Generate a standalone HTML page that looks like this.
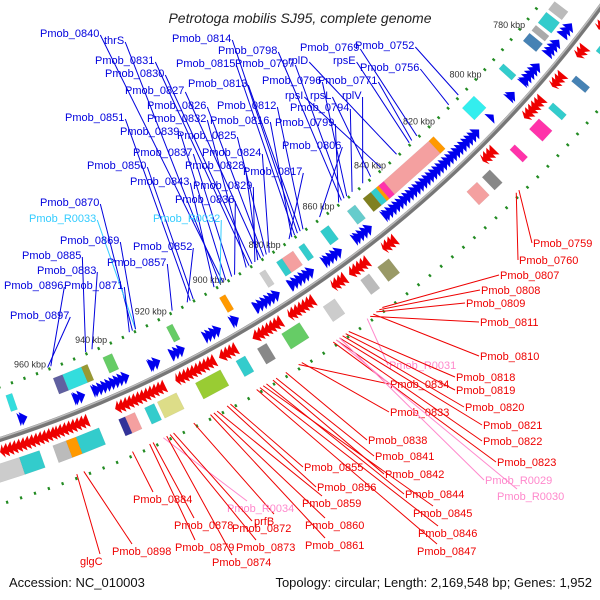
<!DOCTYPE html>
<html><head><meta charset="utf-8"><style>
html,body{margin:0;padding:0;background:#fff}
svg{display:block}
text{font-family:"Liberation Sans",sans-serif}
</style></head><body>
<svg id="map" width="600" height="600" viewBox="0 0 600 600" xmlns="http://www.w3.org/2000/svg">
<text x="300" y="23" text-anchor="middle" font-size="14" font-style="italic" fill="#222">Petrotoga mobilis SJ95, complete genome</text>
<text x="9" y="587" font-size="13" fill="#111">Accession: NC_010003</text>
<text x="592" y="587" text-anchor="end" font-size="13" fill="#111">Topology: circular; Length: 2,169,548 bp; Genes: 1,952</text>
<g id="g"></g>
</svg>
<script>
// ---- data ----
const tickKbp = [780,800,820,840,860,880,900,920,940,960];
const blueRuns = [[768,772],[774,779],[783,790],[794,796],[803,804],[809,846],[851,857],[862,868],[872,880],[884,892],[898,900],[904,909],[916,920],[924,927],[934,945],[948,951],[966,968]];
const redRuns = [[760,764],[771,774],[781,785],[790,797],[810,814],[848,852],[858,864],[866,870],[877,885],[888,897],[903,908],[910,922],[926,941],[950,960],[960,976]];
const innerBlocks = [[766,769,'#bbbbbb'],[770,774,'#33cccc'],[775,777,'#aaaaaa'],[778,781,'#4682b4'],[790,792,'#33cccc'],[803,808,'#33eeee'],[820,822,'#ff9900'],[822,840,'#f4a0a0'],[840,842,'#ff33aa'],[842,843,'#ff9900'],[843,845,'#33cccc'],[845,848,'#808020'],[851,854,'#66cccc'],[861,864,'#33cccc'],[870,872,'#33cccc'],[874,878,'#f4a0a0'],[878,880,'#33cccc'],[884,886,'#cccccc'],[898,900,'#ff9900'],[916,918,'#66cc66'],[936,939,'#66cc66'],[944,946,'#999933'],[946,952,'#33dddd'],[952,955,'#6060a0'],[968,970,'#33dddd']];
const outerBlocks = [[760,762,'#6a6acd'],[765,770,'#33cccc'],[779,781,'#4682b4'],[789,791,'#33cccc'],[795,799,'#ff33aa'],[805,807,'#ff33aa'],[815,818,'#888888'],[820,824,'#f4a0a0'],[853,857,'#999966'],[860,863,'#bbbbbb'],[872,876,'#cccccc'],[884,890,'#66cc66'],[895,898,'#888888'],[902,905,'#33cccc'],[910,918,'#99cc33'],[924,930,'#dddd88'],[931,934,'#33cccc'],[937,940,'#f4a0a0'],[940,942,'#333399'],[948,955,'#33cccc'],[955,958,'#ff9900'],[958,962,'#bbbbbb'],[966,972,'#33cccc'],[972,980,'#cccccc']];
const blueNames = ['Pmob_0840','thrS','Pmob_0814','Pmob_0831','Pmob_0798','Pmob_0769','rpsE','Pmob_0752','Pmob_0815','Pmob_0797','rplD','Pmob_0756','Pmob_0830','Pmob_0827','Pmob_0813','Pmob_0796','Pmob_0771','Pmob_0826','Pmob_0812','rpsI','rpsL','rplV','Pmob_0851','Pmob_0832','Pmob_0816','Pmob_0794','Pmob_0839','Pmob_0825','Pmob_0799','Pmob_0837','Pmob_0824','Pmob_0806','Pmob_0850','Pmob_0828','Pmob_0817','Pmob_0843','Pmob_0829','Pmob_0836','Pmob_0870','Pmob_R0033','Pmob_R0032','Pmob_0869','Pmob_0852','Pmob_0885','Pmob_0857','Pmob_0883','Pmob_0896','Pmob_0871','Pmob_0897'];
const blueGene = [840,841,814,831,798,769,772,752,815,797,777,756,830,827,813,796,771,826,812,783,787,790,851,832,816,794,839,825,799,837,824,806,850,828,817,843,829,836,870,869,841,869,852,885,857,883,896,871,897];
const blueX = [40,104,172,95,218,300,333,355,176,235,288,360,105,125,188,262,318,147,217,285,310,342,65,147,210,290,120,177,275,133,202,282,87,185,243,130,193,175,40,29,153,60,133,22,107,37,4,64,10];
const blueY = [33,40,38,60,50,47,60,45,63,63,60,67,73,90,83,80,80,105,105,95,95,95,117,118,120,107,131,135,122,152,152,145,165,165,171,181,185,199,202,218,218,240,246,255,262,270,285,285,315];
const redNames = ['Pmob_0759','Pmob_0760','Pmob_0807','Pmob_0808','Pmob_0809','Pmob_0811','Pmob_0810','Pmob_R0031','Pmob_0834','Pmob_0818','Pmob_0819','Pmob_0820','Pmob_0833','Pmob_0821','Pmob_0822','Pmob_0838','Pmob_0823','Pmob_0841','Pmob_0842','Pmob_R0029','Pmob_0855','Pmob_0856','Pmob_0844','Pmob_R0030','Pmob_0859','Pmob_0845','Pmob_0884','prfB','Pmob_R0034','Pmob_0878','Pmob_0872','Pmob_0860','Pmob_0846','Pmob_0879','Pmob_0873','Pmob_0861','Pmob_0847','glgC','Pmob_0898','Pmob_0874'];
const redGene = [759,760,807,808,809,811,810,812,834,818,819,820,833,821,822,838,823,841,842,821,855,856,844,822,859,845,884,866,875,878,872,860,846,879,873,861,847,900,898,874];
const redX = [533,519,500,481,466,480,480,389,390,456,456,465,390,483,483,368,497,375,385,485,304,317,405,497,302,413,133,254,227,174,232,305,418,175,236,305,417,80,112,212];
const redY = [243,260,275,290,303,322,356,365,384,377,390,407,412,425,441,440,462,456,474,480,467,487,494,496,503,513,499,521,508,525,528,525,533,547,547,545,551,561,551,562];

// ---- geometry ----
const CX=-367, CY=-703;
function ang(k){return (53+(k-860)*0.166)*Math.PI/180;}
function P(k,r){const a=ang(k);return [CX+r*Math.cos(a),CY+r*Math.sin(a)];}
function geneKbp(n){return 806+(n-752)*1.03;}
const NS='http://www.w3.org/2000/svg';
const G=document.getElementById('g');
function mk(tag,attrs){const e=document.createElementNS(NS,tag);for(const k in attrs)e.setAttribute(k,attrs[k]);G.appendChild(e);return e;}
function pts(a){return a.map(p=>p[0].toFixed(1)+','+p[1].toFixed(1)).join(' ');}

// backbone
let e=mk('circle',{cx:CX,cy:CY,r:1200,fill:'none',stroke:'#777',"stroke-width":5});


e=mk('circle',{cx:CX,cy:CY,r:1198.5,fill:'none',stroke:'#bbb',"stroke-width":1.5});



// dotted rings
for(let k=755;k<=990;k+=4){
  [1150,1262].forEach(r=>{
    const big=(k%20===0);
    const a=P(k,r-(big?3:1.5)), b=P(k,r+(big?3:1.5));
    const d=mk('line',{x1:a[0],y1:a[1],x2:b[0],y2:b[1],stroke:'#228b22',"stroke-width":2.2});
    
    
  });
}

// tick labels
tickKbp.forEach(k=>{
  const p=P(k,1139);
  const t=mk('text',{x:p[0],y:p[1]+3,"text-anchor":"middle","font-size":9,fill:'#333'});
  t.textContent=k+' kbp';
  
  
});

// blocks
function block(k0,k1,r0,r1,col){
  const p=[P(k0,r0),P(k1,r0),P(k1,r1),P(k0,r1)];
  return mk('polygon',{points:pts(p),fill:col,stroke:'rgba(0,0,0,0.08)',"stroke-width":0.5});
}
innerBlocks.forEach(b=>{
  const el=block(b[0],b[1],1160,1177,b[2]);
  
  
});
outerBlocks.forEach(b=>{
  const el=block(b[0],b[1],1223,1241,b[2]);
  
  
});

// arrows
function arrowRun(run,r0,r1,col,fwd){
  for(let k=run[0];k<run[1];k+=1.3){
    const k2=Math.min(k+2,run[1]+0.7);
    let p;
    if(fwd) p=[P(k,(r0+r1)/2),P(k2,r0),P(k2,r1)];
    else p=[P(k2,(r0+r1)/2),P(k,r0),P(k,r1)];
    const el=mk('polygon',{points:pts(p),fill:col});
    
    
  }
}
blueRuns.forEach(r=>arrowRun(r,1180,1194,'#0000ee',true));
redRuns.forEach(r=>arrowRun(r,1205,1219,'#ee0000',false));

// blue labels
blueNames.forEach((n,i)=>{
  const isR=n.indexOf('R00')>=0;
  const col=isR?'#33ccff':'#0000dd';
  const t=mk('text',{x:blueX[i],y:blueY[i]+4,"font-size":11,fill:col});
  t.textContent=n;
  
  
  const w=t.getComputedTextLength?t.getComputedTextLength():n.length*6;
  const end=P(geneKbp(blueGene[i]),1148);
  const l=mk('line',{x1:blueX[i]+w+1,y1:blueY[i]+2,x2:end[0],y2:end[1],stroke:col,"stroke-width":1});
  
  
});

// red labels
redNames.forEach((n,i)=>{
  const isR=n.indexOf('R00')>=0;
  const col=isR?'#ff88cc':'#ee0000';
  const t=mk('text',{x:redX[i],y:redY[i]+4,"font-size":11,fill:col});
  t.textContent=n;
  
  
  const st=P(geneKbp(redGene[i]),1258);
  const ex=redY[i]>495?redX[i]+20:redX[i]-1;
  const ey=redY[i]>495?redY[i]-7:redY[i];
  const l=mk('line',{x1:st[0],y1:st[1],x2:ex,y2:ey,stroke:col,"stroke-width":1});
  
  
});
</script>
</body></html>
